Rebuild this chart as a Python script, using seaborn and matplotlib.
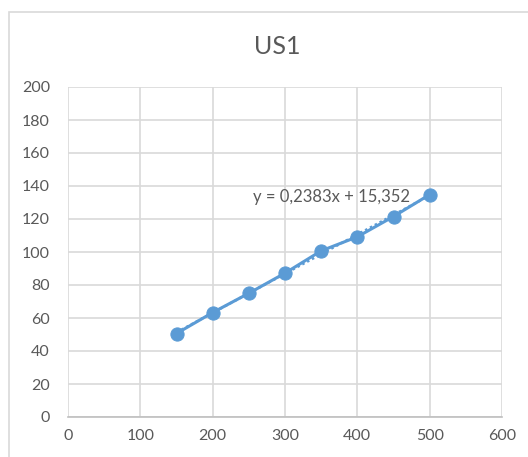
import matplotlib
matplotlib.use("Agg")
import matplotlib.pyplot as plt
import seaborn as sns
import pandas as pd
from matplotlib.patches import Rectangle

x_vals = [150, 200, 250, 300, 350, 400, 450, 500]
y_vals = [50.6, 63.3, 75.0, 87.2, 100.7, 109.2, 121.5, 134.8]
x_ticks = [0, 100, 200, 300, 400, 500, 600]
y_ticks = [0, 20, 40, 60, 80, 100, 120, 140, 160, 180, 200]
title = "US1"
equation = "y = 0,2383x + 15,352"

df = pd.DataFrame({"x": x_vals, "y": y_vals})

sns.set_theme(style="white")
plt.rcParams['font.family'] = ['Lato', 'DejaVu Sans']

blue = "#5B9BD5"
grid = "#D9D9D9"
txt = "#595959"

fig = plt.figure(figsize=(5.28, 4.57), dpi=100)
ax = fig.add_axes([68/528, 1-417/457, (502-68)/528, (417-87)/457])

sns.regplot(data=df, x="x", y="y", ax=ax, scatter=False, ci=None,
            line_kws=dict(color=blue, linestyle=(0, (1, 1.2)), linewidth=1.8))
sns.lineplot(data=df, x="x", y="y", ax=ax, color=blue, linewidth=2.2,
             marker="o", markersize=9.5, markeredgecolor=blue, markerfacecolor=blue)

ax.set_xlim(0, 600)
ax.set_ylim(0, 200)
ax.set_xticks(x_ticks)
ax.set_yticks(y_ticks)
ax.set_xlabel("")
ax.set_ylabel("")
ax.grid(True, color=grid, linewidth=1.2)
ax.set_axisbelow(True)
for s in ["top", "right", "left"]:
    ax.spines[s].set_visible(False)
ax.spines["bottom"].set_color("#BFBFBF")
ax.spines["bottom"].set_linewidth(1.2)
ax.tick_params(axis="both", length=0, labelsize=11.5, labelcolor=txt)
ax.tick_params(axis="y", pad=13)
ax.tick_params(axis="x", pad=9)

ax.text(364, 133.5, equation, fontsize=12, color=txt, ha="center", va="center")

fig.text(277/528, 1-47/457, title, fontsize=18, color=txt, ha="center", va="center")

fig.patches.append(Rectangle((8.5/528, -0.1), 1.2, 1 + 0.1 - 12.5/457,
                             transform=fig.transFigure, fill=False,
                             edgecolor=grid, linewidth=1.2))

fig.savefig("out.png", dpi=100)
